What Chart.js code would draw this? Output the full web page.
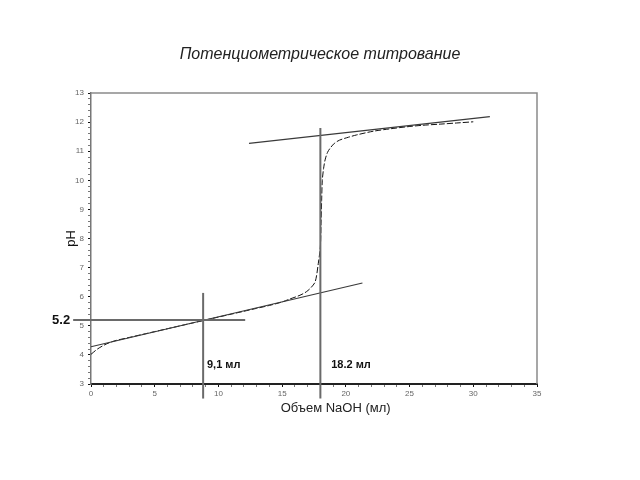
<!DOCTYPE html>
<html>
<head>
<meta charset="utf-8">
<script src="https://cdn.jsdelivr.net/npm/chart.js@4/dist/chart.umd.min.js"></script>
<style>
  body { margin: 0; background: #fff; }
  canvas { display: block; }
</style>
</head>
<body>
<canvas id="titrChart" width="640" height="480"></canvas>
<script>
// titration curve
const volume = [0, 0.5, 1, 1.5, 2, 3, 4, 5, 6, 7, 8, 9, 10, 11, 12, 13, 14, 15, 15.6, 16.4, 16.9, 17.3, 17.6, 17.84, 18.0, 18.05, 18.1, 18.15, 18.25, 18.37, 18.55, 18.76, 19.1, 19.5, 20.2, 20.85, 22.2, 23.5, 24.8, 26, 27.4, 28.7, 30.0];
const ph = [4.02, 4.2, 4.33, 4.43, 4.5, 4.6, 4.7, 4.8, 4.9, 5.0, 5.1, 5.2, 5.3, 5.4, 5.5, 5.6, 5.7, 5.82, 5.92, 6.05, 6.17, 6.33, 6.52, 7.15, 7.72, 8.5, 9.3, 10.0, 10.4, 10.7, 10.95, 11.1, 11.27, 11.38, 11.48, 11.56, 11.69, 11.77, 11.84, 11.89, 11.93, 11.97, 12.01];

// tangent lines
const tanLowX = [0, 21.3];
const tanLowY = [4.28, 6.47];
const tanHighX = [12.4, 31.3];
const tanHighY = [11.27, 12.19];

// construction lines
const eqHalfX = [8.8, 8.8];
const eqHalfY = [2.5, 6.13];
const eqX = [18.0, 18.0];
const eqY = [2.5, 11.8];
const halfX = [-1.4, 12.1];
const halfY = [5.2, 5.2];

const xTicks = [0, 5, 10, 15, 20, 25, 30, 35];
const yTicks = [3, 4, 5, 6, 7, 8, 9, 10, 11, 12, 13];

const chartTitle = 'Потенциометрическое титрование';
const labelHalf = '9,1 мл';
const labelEq = '18.2 мл';
const labelPh = '5.2';

function pts(xs, ys) {
    return xs.map((x, i) => ({ x: x, y: ys[i] }));
}

const FONT = "'Liberation Sans', Arial, sans-serif";

const extras = {
    id: 'extras',
    beforeDatasetsDraw(chart) {
        const { ctx, chartArea } = chart;
        ctx.save();
        ctx.strokeStyle = '#8a8a8a';
        ctx.lineWidth = 1.5;
        ctx.beginPath();
        ctx.moveTo(chartArea.left, chartArea.top);
        ctx.lineTo(chartArea.right, chartArea.top);
        ctx.lineTo(chartArea.right, chartArea.bottom);
        ctx.stroke();
        ctx.restore();
    },
    afterDatasetsDraw(chart) {
        const { ctx } = chart;
        const xs = chart.scales.x, ys = chart.scales.y;
        ctx.save();
        ctx.textBaseline = 'middle';
        // title, centred on the page
        ctx.fillStyle = '#222';
        ctx.font = 'italic 16px ' + FONT;
        ctx.textAlign = 'center';
        ctx.fillText(chartTitle, chart.width / 2, 55);

        ctx.fillStyle = '#111';
        ctx.font = 'bold 11px ' + FONT;
        ctx.textAlign = 'left';
        ctx.fillText(labelHalf, xs.getPixelForValue(9.1), ys.getPixelForValue(3.65));
        ctx.fillText(labelEq, xs.getPixelForValue(18.85), ys.getPixelForValue(3.65));
        ctx.font = 'bold 13px ' + FONT;
        ctx.textAlign = 'right';
        ctx.fillText(labelPh, xs.getPixelForValue(halfX[0]) - 3, ys.getPixelForValue(halfY[0]));
        // x axis title
        ctx.font = '13px ' + FONT;
        ctx.textAlign = 'center';
        ctx.fillStyle = '#222';
        ctx.fillText('Объем NaOH (мл)', xs.getPixelForValue(19.2), 408);
        ctx.restore();
    }
};

new Chart(document.getElementById('titrChart'), {
    type: 'scatter',
    data: {
        datasets: [
            { data: pts(halfX, halfY), showLine: true, borderColor: '#6a6a6a', borderWidth: 2, pointRadius: 0, clip: false },
            { data: pts(eqHalfX, eqHalfY), showLine: true, borderColor: '#6a6a6a', borderWidth: 2, pointRadius: 0, clip: false },
            { data: pts(eqX, eqY), showLine: true, borderColor: '#6a6a6a', borderWidth: 2, pointRadius: 0, clip: false },
            { data: pts(tanLowX, tanLowY), showLine: true, borderColor: '#3a3a3a', borderWidth: 1.2, pointRadius: 0, clip: false },
            { data: pts(tanHighX, tanHighY), showLine: true, borderColor: '#3a3a3a', borderWidth: 1.2, pointRadius: 0, clip: false },
            { data: pts(volume, ph), showLine: true, borderColor: '#111', borderWidth: 1, borderDash: [6, 2], pointRadius: 0, tension: 0.3, clip: false }
        ]
    },
    options: {
        responsive: false,
        animation: false,
        layout: { padding: { top: 93, left: 0, right: 103, bottom: 0 } },
        plugins: {
            legend: { display: false },
            tooltip: { enabled: false },
            title: { display: false }
        },
        scales: {
            x: {
                type: 'linear',
                min: 0,
                max: 35,
                afterFit: (s) => { s.height = 96; },
                afterBuildTicks: (s) => {
                    const t = [];
                    for (let v = 0; v <= 35; v++) t.push({ value: v });
                    s.ticks = t;
                },
                ticks: {
                    autoSkip: false,
                    maxRotation: 0,
                    padding: 2,
                    color: '#666',
                    font: { family: FONT, size: 8 },
                    callback: (v) => xTicks.includes(v) ? String(v) : ''
                },
                grid: {
                    drawOnChartArea: false,
                    tickLength: 3,
                    color: (c) => (c.tick && xTicks.includes(c.tick.value)) ? '#111' : '#777'
                },
                border: { color: '#222', width: 2 }
            },
            y: {
                type: 'linear',
                min: 3,
                max: 13,
                afterFit: (s) => { s.width = 91; },
                afterBuildTicks: (s) => {
                    const t = [];
                    for (let i = 0; i <= 50; i++) t.push({ value: 3 + i * 0.2 });
                    s.ticks = t;
                },
                ticks: {
                    autoSkip: false,
                    padding: 4,
                    color: '#666',
                    font: { family: FONT, size: 8 },
                    callback: (v) => {
                        const r = Math.round(v);
                        return (Math.abs(v - r) < 1e-6 && yTicks.includes(r)) ? String(r) : '';
                    }
                },
                grid: {
                    drawOnChartArea: false,
                    tickLength: 3,
                    color: (c) => (c.tick && Math.abs(c.tick.value - Math.round(c.tick.value)) < 1e-6) ? '#111' : '#777'
                },
                border: { color: '#777', width: 1.5 },
                title: {
                    display: true,
                    text: 'pH',
                    color: '#111',
                    font: { family: FONT, size: 13 },
                    padding: { top: 64, bottom: 0 }
                }
            }
        }
    },
    plugins: [extras]
});
</script>
</body>
</html>
